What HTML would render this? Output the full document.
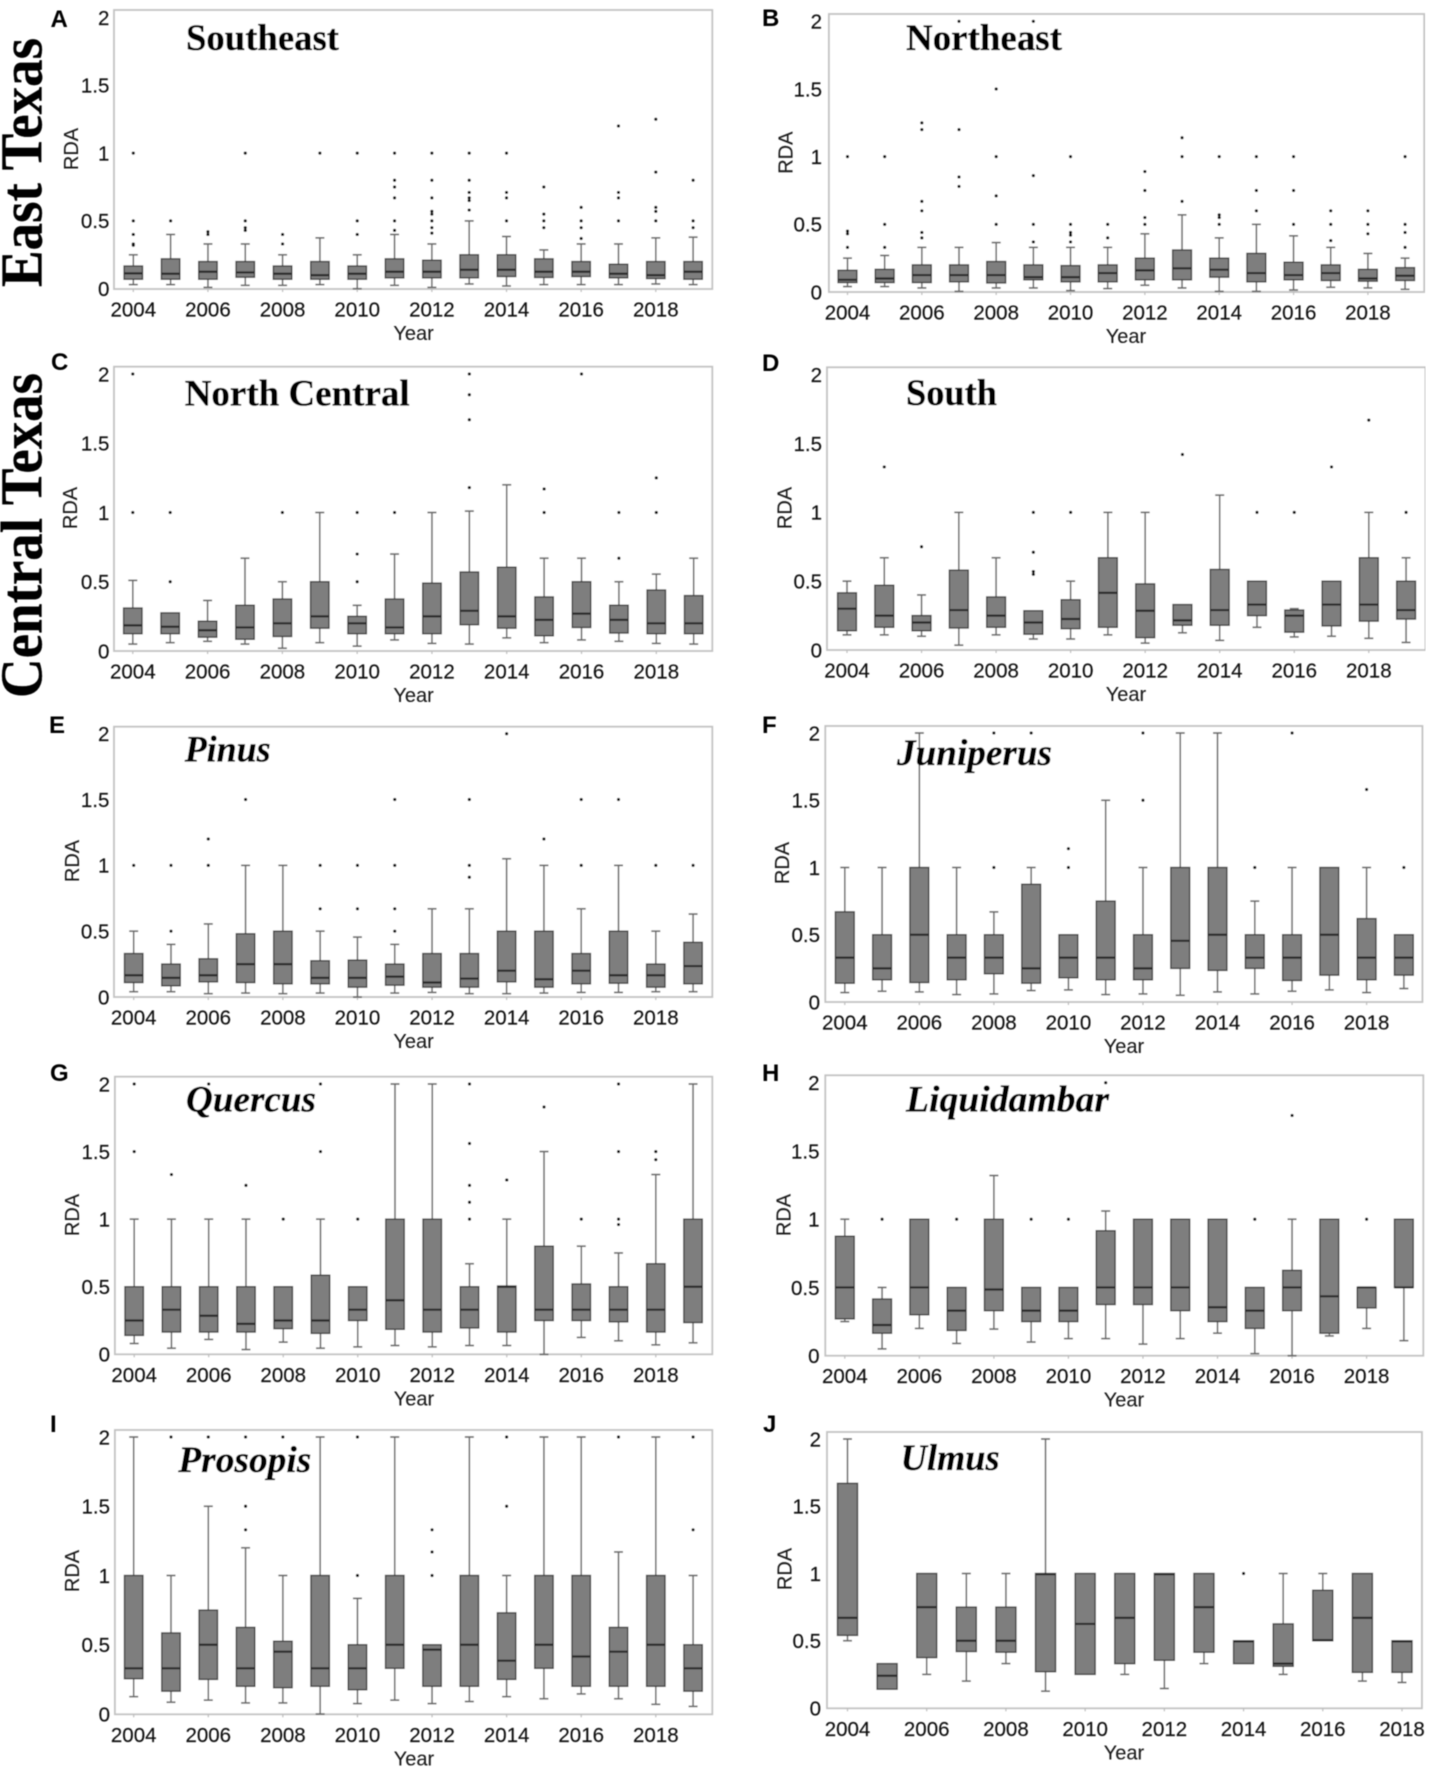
<!DOCTYPE html>
<html lang="en">
<head>
<meta charset="utf-8">
<title>RDA boxplots by region and genus, 2004–2019</title>
<style>
html,body{margin:0;padding:0;background:#fff;}
svg{display:block;}
.tick{font-family:"Liberation Sans",sans-serif;font-size:20.5px;fill:#111;stroke:#111;stroke-width:.15px;}
.axis{font-family:"Liberation Sans",sans-serif;font-size:20px;fill:#1a1a1a;stroke:#1a1a1a;stroke-width:.1px;}
.letter{font-family:"Liberation Sans",sans-serif;font-size:24px;font-weight:bold;fill:#000;}
.title{font-family:"Liberation Serif",serif;font-size:37px;font-weight:bold;fill:#000;stroke:#000;stroke-width:.35px;}
.ital{font-style:italic;}
.side{font-family:"Liberation Serif",serif;font-size:59px;font-weight:bold;fill:#000;stroke:#000;stroke-width:.3px;}
</style>
</head>
<body>
<svg id="fig" xmlns="http://www.w3.org/2000/svg" width="1431" height="1772" viewBox="0 0 1431 1772">
<defs><filter id="soft" x="0" y="0" width="100%" height="100%"><feGaussianBlur stdDeviation="0.4"/></filter></defs>
<rect width="1431" height="1772" fill="#fff"/>
<g id="root" filter="url(#soft)">
<text class="side" transform="translate(41.4,287) rotate(-90)" textLength="249" lengthAdjust="spacingAndGlyphs">East Texas</text>
<text class="side" transform="translate(41.4,698) rotate(-90)" textLength="325" lengthAdjust="spacingAndGlyphs">Central Texas</text>

<text class="letter" x="50.5" y="27">A</text>
<text class="letter" x="762" y="26">B</text>
<text class="letter" x="51" y="370">C</text>
<text class="letter" x="762" y="371">D</text>
<text class="letter" x="49" y="733">E</text>
<text class="letter" x="762" y="733">F</text>
<text class="letter" x="50" y="1081">G</text>
<text class="letter" x="762" y="1081">H</text>
<text class="letter" x="50" y="1432">I</text>
<text class="letter" x="763" y="1432">J</text>

<g id="plots"></g>

<text class="title" x="186" y="50" textLength="153" lengthAdjust="spacingAndGlyphs">Southeast</text>
<text class="title" x="906" y="50" textLength="156" lengthAdjust="spacingAndGlyphs">Northeast</text>
<text class="title" x="184.7" y="405.5" textLength="225" lengthAdjust="spacingAndGlyphs">North Central</text>
<text class="title" x="906" y="405" textLength="91" lengthAdjust="spacingAndGlyphs">South</text>
<text class="title ital" x="184.7" y="761.5" textLength="86" lengthAdjust="spacingAndGlyphs">Pinus</text>
<text class="title ital" x="897" y="765" textLength="155" lengthAdjust="spacingAndGlyphs">Juniperus</text>
<text class="title ital" x="186" y="1111.5" textLength="130" lengthAdjust="spacingAndGlyphs">Quercus</text>
<text class="title ital" x="906" y="1111.5" textLength="203" lengthAdjust="spacingAndGlyphs">Liquidambar</text>
<text class="title ital" x="178.3" y="1472" textLength="133" lengthAdjust="spacingAndGlyphs">Prosopis</text>
<text class="title ital" x="900.6" y="1470" textLength="99" lengthAdjust="spacingAndGlyphs">Ulmus</text>
</g>
</svg>
<script>
// Shared axis labels
const yTickValues = [0, 0.5, 1, 1.5, 2];
const yTickLabels = ['0', '0.5', '1', '1.5', '2'];
const xTickYears = [2004, 2006, 2008, 2010, 2012, 2014, 2016, 2018];
const yLabel = 'RDA';
const xLabel = 'Year';

// Panel A: Southeast
const seQ3 = [.167,.22,.2,.2,.167,.2,.167,.22,.21,.25,.25,.22,.2,.18,.2,.2];
const seMed = [.113,.11,.125,.12,.11,.1,.11,.125,.125,.14,.14,.125,.125,.11,.1,.125];
const seQ1 = [.07,.07,.07,.085,.07,.07,.07,.08,.08,.08,.09,.083,.09,.08,.075,.07];
const seLo = [.03,.03,.01,.025,.025,.03,0,.025,.01,.035,.02,.03,.03,.03,.035,.03];
const seHi = [.25,.4,.33,.33,.25,.375,.25,.4,.33,.5,.385,.286,.33,.33,.375,.38];
const seOut = [[1,.5,.4,.33,.32],[.5],[.4,.42],[1,.5,.45,.43],[.4,.33],[1],[1,.5,.4],[1,.8,.75,.67,.5,.43],[1,.8,.67,.57,.55,.5,.45,.41],[1,.8,.71,.67,.65,.58],[1,.71,.67,.5],[.75,.55,.5,.45],[.6,.5,.45,.37],[1.2,.71,.67,.5],[1.25,.86,.6,.57,.5],[.8,.5,.45]];

// Panel B: Northeast
const neQ3 = [.16,.167,.2,.2,.225,.2,.195,.2,.25,.31,.25,.285,.22,.2,.167,.18];
const neMed = [.09,.1,.125,.125,.125,.11,.11,.14,.16,.175,.165,.14,.125,.14,.1,.12];
const neQ1 = [.07,.07,.07,.075,.067,.09,.075,.075,.09,.09,.11,.075,.09,.085,.08,.085];
const neLo = [.04,.04,.03,.005,.03,.03,.01,.025,.05,.03,.005,.005,.015,.035,.03,.02];
const neHi = [.25,.27,.33,.33,.365,.33,.33,.33,.43,.57,.4,.5,.415,.33,.285,.25];
const neOut = [[1,.45,.43,.33],[1,.5,.33],[1.25,1.2,.67,.6,.44,.4],[2,1.2,.85,.78],[1.5,1,.71,.5],[2,.86,.5,.37],[1,.5,.44,.42,.37],[.5,.4],[.89,.75,.55,.5],[1.14,1,.67],[1,.57,.55,.5],[1,.75,.6],[1,.75,.5],[.6,.5,.38],[.6,.5,.43],[1,.5,.44,.33]];

// Panel C: North Central
const ncQ3 = [.31,.275,.215,.33,.375,.5,.25,.375,.49,.57,.605,.39,.5,.33,.44,.4];
const ncMed = [.185,.175,.15,.17,.2,.25,.2,.17,.25,.29,.25,.225,.27,.225,.2,.2];
const ncQ1 = [.125,.125,.1,.085,.105,.165,.125,.125,.125,.19,.165,.11,.17,.13,.125,.125];
const ncLo = [.05,.06,.07,.05,.02,.06,.035,.08,.055,.05,.095,.06,.08,.07,.055,.05];
const ncHi = [.51,.275,.365,.67,.5,1,.33,.7,1,1.01,1.2,.67,.67,.5,.555,.67];
const ncOut = [[2,1],[1,.5],[],[],[1],[],[1,.7,.5],[1],[],[2,1.85,1.67,1.18],[],[1.17,1],[2],[1,.67],[1.25,1],[]];

// Panel D: South
const soQ3 = [.415,.47,.25,.58,.385,.285,.365,.67,.48,.33,.585,.5,.29,.5,.67,.5];
const soMed = [.3,.25,.2,.29,.25,.2,.225,.415,.285,.215,.29,.33,.25,.33,.33,.29];
const soQ1 = [.14,.165,.14,.16,.165,.115,.155,.165,.09,.18,.18,.25,.13,.175,.21,.225];
const soLo = [.11,.11,.1,.035,.11,.08,.08,.11,.05,.125,.07,.165,.095,.1,.085,.055];
const soHi = [.5,.67,.4,1,.67,.285,.5,1,1,.33,1.125,.5,.3,.5,1,.67];
const soOut = [[],[1.33],[.75],[],[],[1,.71,.57,.55],[1],[],[],[1.42],[],[1],[1],[1.33],[1.67],[1]];

// Panel E: Pinus
const piQ3 = [.33,.25,.29,.48,.5,.275,.28,.25,.33,.33,.5,.5,.33,.5,.25,.415];
const piMed = [.165,.145,.165,.25,.25,.145,.145,.155,.11,.14,.2,.135,.2,.165,.165,.235];
const piQ1 = [.11,.085,.115,.11,.1,.1,.075,.09,.075,.075,.115,.075,.1,.105,.075,.1];
const piLo = [.04,.04,.025,.03,.025,.03,0,.03,.035,.025,.025,.03,.035,.035,.04,.04];
const piHi = [.5,.4,.555,1,1,.5,.455,.4,.67,.67,1.05,1,.67,1,.5,.63];
const piOut = [[1],[1,.5],[1.2,1],[1.5],[],[1,.67],[1,.67],[1.5,1,.67,.5],[],[1.5,1,.91],[2],[1.2],[1.5,1],[1.5],[1],[1]];

// Panel F: Juniperus
const juQ3 = [.67,.5,1,.5,.5,.875,.5,.75,.5,1,1,.5,.5,1,.62,.5];
const juMed = [.33,.25,.5,.33,.33,.25,.33,.33,.25,.455,.5,.33,.33,.5,.33,.33];
const juQ1 = [.14,.165,.145,.165,.21,.14,.18,.165,.165,.25,.235,.25,.16,.2,.165,.2];
const juLo = [.07,.08,.075,.055,.06,.085,.09,.055,.06,.05,.075,.06,.08,.09,.07,.1];
const juHi = [1,1,2,1,.67,1,.5,1.5,1,2,2,.75,1,1,1,.5];
const juOut = [[],[],[],[],[2,1],[2],[1.14,1],[],[2,1.5],[],[],[1],[2],[],[1.58],[1]];

// Panel G: Quercus
const quQ3 = [.5,.5,.5,.5,.5,.585,.5,1,1,.5,.505,.8,.52,.5,.67,1];
const quMed = [.25,.33,.285,.225,.25,.25,.33,.4,.33,.33,.5,.33,.33,.33,.33,.5];
const quQ1 = [.14,.165,.165,.165,.19,.155,.25,.185,.165,.195,.165,.25,.25,.24,.165,.235];
const quLo = [.08,.045,.11,.035,.09,.045,.055,.065,.055,.065,.065,0,.125,.1,.07,.085];
const quHi = [1,1,1,1,.5,1,.5,2,2,.67,1,1.5,.8,.75,1.33,2];
const quOut = [[2,1.5],[1.33],[2],[1.25],[1],[2,1.5],[1],[],[],[2,1.56,1.25,1.125,1],[1.29],[1.83],[1],[2,1.5,1,.96],[1.5,1.44],[]];

// Panel H: Liquidambar
const liQ3 = [.875,.415,1,.5,1,.5,.5,.915,1,1,1,.5,.625,1,.5,1];
const liMed = [.5,.225,.5,.33,.485,.33,.33,.5,.5,.5,.355,.33,.5,.435,.5,.5];
const liQ1 = [.27,.165,.3,.185,.33,.25,.25,.375,.375,.33,.25,.2,.33,.165,.35,.5];
const liLo = [.25,.05,.2,.09,.195,.1,.125,.125,.085,.125,.165,.015,0,.145,.2,.11];
const liHi = [1,.5,1,.5,1.32,.5,.5,1.06,1,1,1,.5,1,1,.5,1];
const liOut = [[],[1],[],[1],[],[1],[1],[2],[],[],[],[1],[1.76],[],[1],[]];

// Panel I: Prosopis
const prQ3 = [1,.585,.75,.625,.525,1,.5,1,.5,1,.73,1,1,.625,1,.5];
const prMed = [.33,.33,.5,.33,.45,.33,.33,.5,.465,.5,.385,.5,.415,.45,.5,.33];
const prQ1 = [.255,.165,.25,.2,.19,.2,.175,.33,.2,.2,.25,.33,.2,.2,.2,.165];
const prLo = [.125,.085,.1,.08,.08,0,.075,.1,.075,.09,.125,.11,.145,.11,.07,.055];
const prHi = [2,1,1.5,1.2,1,2,.835,2,.5,2,1,2,2,1.17,2,1];
const prOut = [[],[2],[2],[2,1.5,1.33],[2],[],[2,1],[],[1.33,1.17,1],[],[2,1.5],[],[],[2],[],[2,1.33]];

// Panel J: Ulmus
const ulQ3 = [1.67,.33,1,.75,.75,1,1,1,1,1,.5,.625,.875,1,.5];
const ulMed = [.67,.24,.75,.5,.5,.995,.625,.67,.995,.75,.495,.33,.505,.67,.495];
const ulQ1 = [.54,.14,.375,.42,.415,.27,.25,.33,.355,.415,.33,.31,.5,.265,.265];
const ulLo = [.5,.14,.25,.2,.33,.125,.25,.25,.145,.33,.33,.25,.5,.2,.19];
const ulHi = [2,.33,1,1,1,2,1,1,1,1,.5,1,1,1,.5];
const ulOut = [[],[],[],[],[],[],[],[],[],[],[1],[],[],[],[]];

// Panel geometry and data bindings
const panels = [
 {id:'a',g:{l:114,r:712.3,t:10,b:289,y0:288.7,y2:17.5,x0:133.3,x14:655.8,bw:18.4,tr:109.4,rx:78,ry:149,xc:413.6},q3:seQ3,med:seMed,q1:seQ1,lo:seLo,hi:seHi,out:seOut},
 {id:'b',g:{l:828.9,r:1424.2,t:14,b:292,y0:292,y2:21.3,x0:847.5,x14:1367.9,bw:18.8,tr:822,rx:792.6,ry:152.7,xc:1126},q3:neQ3,med:neMed,q1:neQ1,lo:neLo,hi:neHi,out:neOut},
 {id:'c',g:{l:114,r:712.3,t:366.7,b:651,y0:651,y2:374,x0:132.8,x14:656.3,bw:18.4,tr:109.4,rx:77,ry:508,xc:413.6},q3:ncQ3,med:ncMed,q1:ncQ1,lo:ncLo,hi:ncHi,out:ncOut},
 {id:'d',g:{l:827,r:1425.5,t:367.3,b:650,y0:650,y2:374.7,x0:847,x14:1368.8,bw:18.8,tr:822,rx:791.7,ry:508,xc:1126},q3:soQ3,med:soMed,q1:soQ1,lo:soLo,hi:soHi,out:soOut},
 {id:'e',g:{l:114,r:712.3,t:726.7,b:997,y0:997,y2:733.7,x0:133.7,x14:655.8,bw:18.4,tr:109.4,rx:79,ry:861,xc:413.6},q3:piQ3,med:piMed,q1:piQ1,lo:piLo,hi:piHi,out:piOut},
 {id:'f',g:{l:825.3,r:1422.4,t:726,b:1002,y0:1002,y2:733,x0:844.8,x14:1366.6,bw:18.8,tr:820,rx:789,ry:863,xc:1124},q3:juQ3,med:juMed,q1:juQ1,lo:juLo,hi:juHi,out:juOut},
 {id:'g',g:{l:114.9,r:712.3,t:1076.7,b:1354.3,y0:1354.3,y2:1084,x0:134.2,x14:655.8,bw:18.4,tr:110,rx:79,ry:1215,xc:414},q3:quQ3,med:quMed,q1:quQ1,lo:quLo,hi:quHi,out:quOut},
 {id:'h',g:{l:825.3,r:1423.3,t:1075.3,b:1355.7,y0:1355.7,y2:1082.7,x0:844.8,x14:1366.6,bw:18.8,tr:819.5,rx:790.3,ry:1215,xc:1124},q3:liQ3,med:liMed,q1:liQ1,lo:liLo,hi:liHi,out:liOut},
 {id:'i',g:{l:114.9,r:712.3,t:1430,b:1714.3,y0:1714,y2:1437,x0:133.7,x14:655.8,bw:18.4,tr:110,rx:79,ry:1571,xc:414},q3:prQ3,med:prMed,q1:prQ1,lo:prLo,hi:prHi,out:prOut},
 {id:'j',g:{l:827,r:1421.9,t:1432,b:1708.3,y0:1708,y2:1439,x0:847.5,x14:1402,bw:20,tr:821,rx:791.7,ry:1569,xc:1124},q3:ulQ3,med:ulMed,q1:ulQ1,lo:ulLo,hi:ulHi,out:ulOut}
];

const NS = 'http://www.w3.org/2000/svg';
function mk(tag, attrs, parent) {
  const el = document.createElementNS(NS, tag);
  for (const k in attrs) el.setAttribute(k, attrs[k]);
  parent.appendChild(el);
  return el;
}
function yScale(g) { return v => g.y0 - v * (g.y0 - g.y2) / 2; }
function xScale(g) { return yr => g.x0 + (yr - 2004) * (g.x14 - g.x0) / 14; }

const host = document.getElementById('plots');
panels.forEach(p => {
  const g = p.g, Y = yScale(g), X = xScale(g);
  const grp = mk('g', {}, host);
  
  

  const frame = mk('rect', {x:g.l, y:g.t, width:g.r-g.l, height:g.b-g.t, fill:'#fff', stroke:'#c2c2c2', 'stroke-width':1.8}, grp);
  
  

  yTickValues.forEach((v, i) => {
    const t = mk('text', {class:'tick', x:g.tr, y:Y(v)+7.3, 'text-anchor':'end'}, grp);
    t.textContent = yTickLabels[i];
    
    
  });
  xTickYears.forEach(yr => {
    const m = mk('line', {x1:X(yr), x2:X(yr), y1:g.b, y2:g.b+3, stroke:'#bdbdbd', 'stroke-width':1.2}, grp);
    
    
    const t = mk('text', {class:'tick', x:X(yr), y:g.b+27.5, 'text-anchor':'middle'}, grp);
    t.textContent = String(yr);
    
    
  });

  const yt = mk('text', {class:'axis', 'text-anchor':'middle', transform:'translate(' + g.rx + ',' + g.ry + ') rotate(-90)'}, grp);
  yt.textContent = yLabel;
  
  
  const xt = mk('text', {class:'axis', x:g.xc, y:g.b+51, 'text-anchor':'middle'}, grp);
  xt.textContent = xLabel;
  
  

  p.q3.forEach((q3, i) => {
    const yr = 2004 + i, cx = X(yr), hw = g.bw / 2;
    const q1 = p.q1[i], med = p.med[i], lo = p.lo[i], hi = p.hi[i];
    if (hi > q3) {
      const w = mk('line', {x1:cx, x2:cx, y1:Y(q3), y2:Y(hi), stroke:'#6c6c6c', 'stroke-width':1.6}, grp);
      
      
      const c = mk('line', {x1:cx-4.5, x2:cx+4.5, y1:Y(hi), y2:Y(hi), stroke:'#6c6c6c', 'stroke-width':1.7}, grp);
      
      
    }
    if (lo < q1) {
      const w = mk('line', {x1:cx, x2:cx, y1:Y(q1), y2:Y(lo), stroke:'#6c6c6c', 'stroke-width':1.6}, grp);
      
      
      const c = mk('line', {x1:cx-4.5, x2:cx+4.5, y1:Y(lo), y2:Y(lo), stroke:'#6c6c6c', 'stroke-width':1.7}, grp);
      
      
    }
    const b = mk('rect', {x:cx-hw, y:Y(q3), width:g.bw, height:Y(q1)-Y(q3), fill:'#7e7e7e', stroke:'#3f3f3f', 'stroke-width':1.4}, grp);
    
    
    const m = mk('line', {x1:cx-hw, x2:cx+hw, y1:Y(med), y2:Y(med), stroke:'#2b2b2b', 'stroke-width':2.2}, grp);
    
    
    p.out[i].forEach(v => {
      const d = mk('circle', {cx:cx, cy:Y(v), r:1.6, fill:'#111'}, grp);
      
      
    });
  });
});
</script>
</body>
</html>
